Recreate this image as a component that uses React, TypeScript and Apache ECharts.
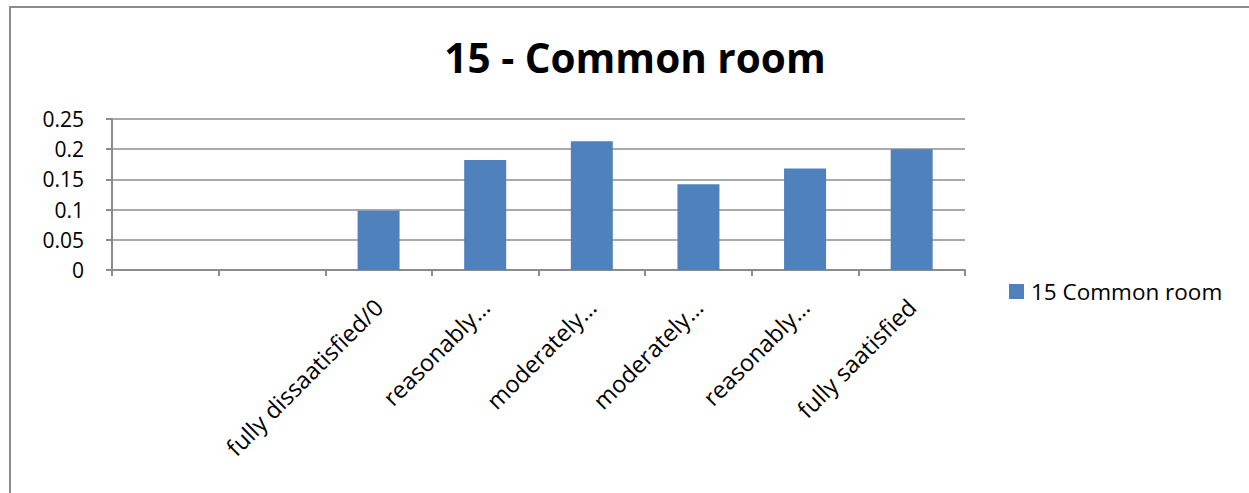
import React, { useEffect, useRef } from "react";
import * as echarts from "echarts";

const categories = ["", "", "fully dissaatisfied/0", "reasonably…", "moderately…", "moderately…", "reasonably…", "fully saatisfied"];
const values: (number | null)[] = [null, null, 0.098, 0.182, 0.213, 0.142, 0.168, 0.2];
const seriesName = "15 Common room";
const titleText = "15 - Common room";
const yTicks = { min: 0, max: 0.25, interval: 0.05 };

const FONT = "'Open Sans', 'Noto Sans', sans-serif";

export default function App() {
  const ref = useRef<HTMLDivElement>(null);
  useEffect(() => {
    if (!ref.current) return;
    const chart = echarts.init(ref.current, null, { renderer: "svg" });
    chart.setOption({
      animation: false,
      backgroundColor: "#ffffff",
      title: {
        text: titleText,
        left: 630,
        textAlign: "center",
        top: 32,
        textStyle: { fontFamily: FONT, fontSize: 40.5, fontWeight: "bold", color: "#000" },
      },
      graphic: [
        {
          type: "rect",
          shape: { x: 10, y: 7, width: 1300, height: 600 },
          style: { fill: "none", stroke: "#8c8c8c", lineWidth: 2 },
          silent: true,
        },
      ],
      legend: {
        data: [seriesName],
        left: 1009,
        top: 280,
        padding: 0,
        itemWidth: 15,
        itemHeight: 15,
        itemGap: 10,
        icon: "rect",
        textStyle: { fontFamily: FONT, fontSize: 22.5, color: "#000", padding: [0, 0, 0, 2] },
      },
      grid: { left: 112, right: 284, top: 119, bottom: 223, containLabel: false },
      xAxis: {
        type: "category",
        data: categories,
        boundaryGap: true,
        axisLine: { show: true, lineStyle: { color: "#8c8c8c", width: 2 } },
        axisTick: { show: true, alignWithLabel: false, length: 6, lineStyle: { color: "#8c8c8c", width: 2 } },
        axisLabel: {
          interval: 0,
          rotate: 45,
          margin: 33,
          fontFamily: FONT,
          fontSize: 23.5,
          color: "#000",
        },
      },
      yAxis: {
        type: "value",
        min: yTicks.min,
        max: yTicks.max,
        interval: yTicks.interval,
        axisLine: { show: true, lineStyle: { color: "#8c8c8c", width: 2 } },
        axisTick: { show: true, length: 6, lineStyle: { color: "#8c8c8c", width: 2 } },
        splitLine: { show: true, lineStyle: { color: "#8c8c8c", width: 1.5 } },
        axisLabel: {
          margin: 28,
          fontFamily: FONT,
          fontSize: 21,
          color: "#000",
          formatter: (v: number) => String(parseFloat(v.toFixed(2))),
        },
      },
      series: [
        {
          name: seriesName,
          type: "bar",
          data: values,
          barWidth: 42,
          itemStyle: { color: "#4f81bd" },
        },
      ],
    });
    return () => chart.dispose();
  }, []);
  return <div ref={ref} style={{ position: "fixed", left: 0, top: 0, width: 1249, height: 493 }} />;
}
